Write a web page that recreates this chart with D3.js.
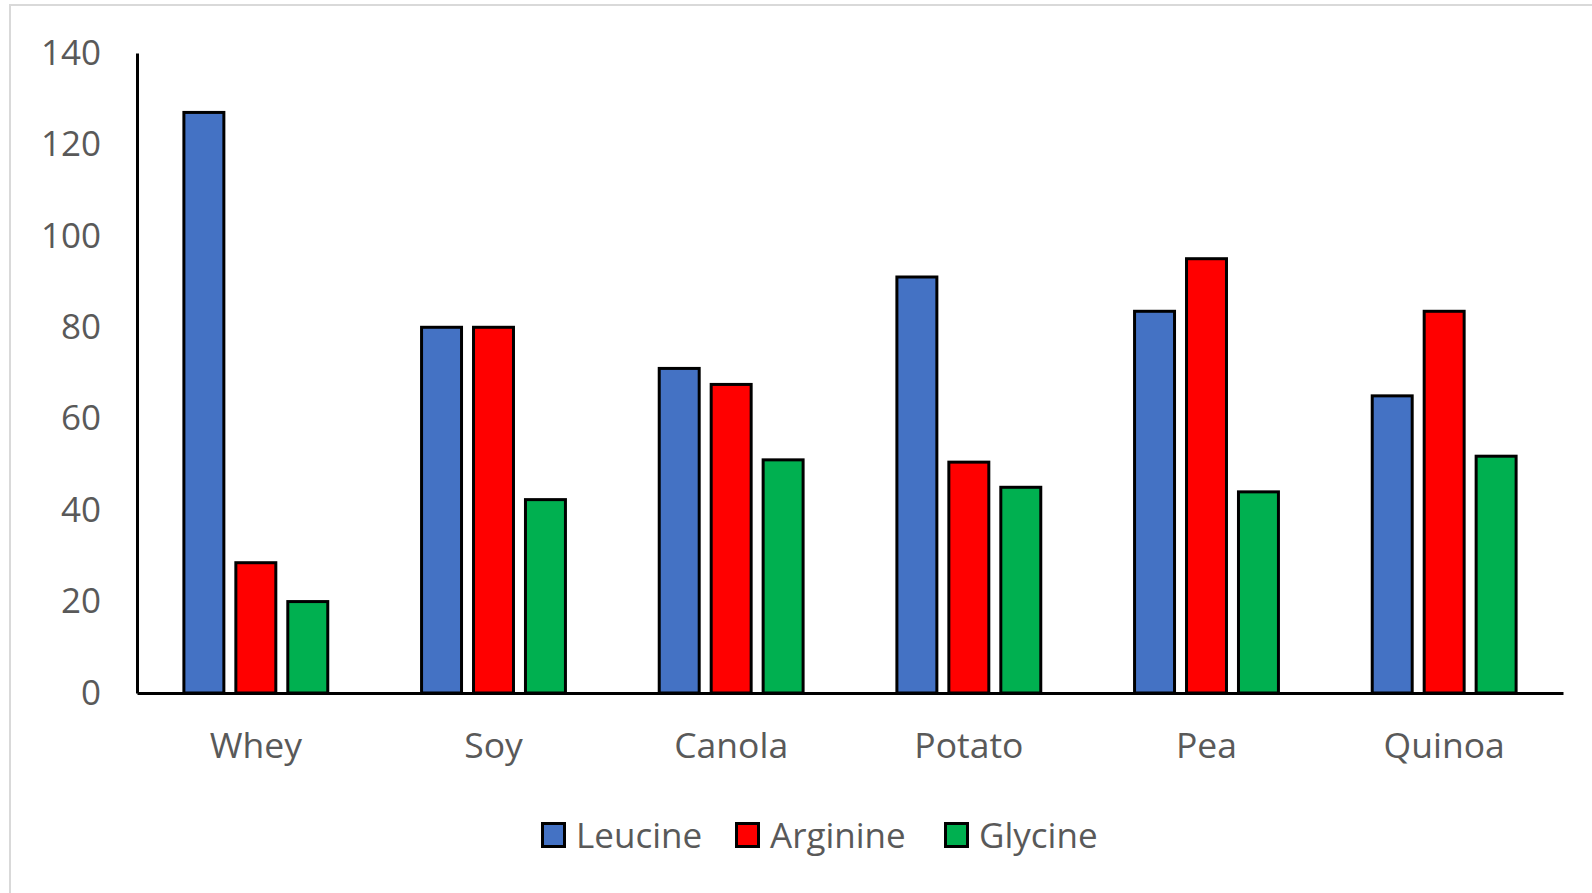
<!DOCTYPE html>
<html>
<head>
  <meta charset="utf-8">
  <title>Amino acids by protein source</title>
  <script src="https://d3js.org/d3.v7.min.js"></script>
  <style>
    body { margin: 0; background: #fff; }
    text { font-family: "Open Sans", "Noto Sans", sans-serif; fill: #595959; }
  </style>
</head>
<body>
  <svg width="1592" height="893"></svg>
  <script>
// data
const categories = ['Whey', 'Soy', 'Canola', 'Potato', 'Pea', 'Quinoa'];
const seriesNames = ['Leucine', 'Arginine', 'Glycine'];
const leucine = [127, 80, 71, 91, 83.5, 65];
const arginine = [28.5, 80, 67.5, 50.5, 95, 83.5];
const glycine = [20, 42.3, 51, 45, 44, 51.8];
const yTicks = [0, 20, 40, 60, 80, 100, 120, 140];
const colors = ['#4472C4', '#FF0000', '#00B050'];

const values = [leucine, arginine, glycine];

const svg = d3.select('svg');

// light frame round the chart area
svg.append('rect')
  .attr('x', 10).attr('y', 5)
  .attr('width', 1600).attr('height', 900)
  .attr('fill', 'none')
  .attr('stroke', '#d9d9d9')
  .attr('stroke-width', 2);

const plotLeft = 137, plotRight = 1563, plotTop = 53, plotBottom = 693;

const y = d3.scaleLinear().domain([0, 140]).range([plotBottom, plotTop]);

const x0 = d3.scaleBand()
  .domain(categories)
  .range([plotLeft, plotRight])
  .paddingInner(0.382)
  .paddingOuter(0.191);

const x1 = d3.scaleBand()
  .domain(seriesNames)
  .range([0, x0.bandwidth()])
  .paddingInner(0.173)
  .paddingOuter(0);

// bars
const groups = svg.append('g').selectAll('g')
  .data(categories)
  .join('g')
  .attr('transform', d => `translate(${x0(d)},0)`);

groups.selectAll('rect')
  .data((c, i) => seriesNames.map((s, j) => ({ s, v: values[j][i], c: colors[j] })))
  .join('rect')
  .attr('x', d => x1(d.s) + 1.5)
  .attr('width', x1.bandwidth() - 3)
  .attr('y', d => y(d.v))
  .attr('height', d => y(0) - y(d.v))
  .attr('fill', d => d.c)
  .attr('stroke', '#000')
  .attr('stroke-width', 3);

// y axis
const yAxis = svg.append('g')
  .attr('transform', `translate(${plotLeft},0)`)
  .call(d3.axisLeft(y).tickValues(yTicks).tickSize(0).tickSizeOuter(0).tickPadding(36));
yAxis.select('.domain').attr('stroke', '#000').attr('stroke-width', 3);
yAxis.selectAll('text').style('font-size', '35px').attr('fill', '#595959');

// x axis
const xAxis = svg.append('g')
  .attr('transform', `translate(0,${plotBottom})`)
  .call(d3.axisBottom(x0).tickSize(0).tickSizeOuter(0).tickPadding(40));
xAxis.select('.domain').attr('stroke', '#000').attr('stroke-width', 3);
xAxis.selectAll('text').style('font-size', '35.5px').attr('fill', '#595959');

// legend
const legendX = [541, 735, 944];
const legend = svg.append('g').selectAll('g')
  .data(seriesNames)
  .join('g')
  .attr('transform', (d, i) => `translate(${legendX[i]},822)`);

legend.append('rect')
  .attr('x', 1.5).attr('y', 1.5)
  .attr('width', 22).attr('height', 23)
  .attr('fill', (d, i) => colors[i])
  .attr('stroke', '#000')
  .attr('stroke-width', 3);

legend.append('text')
  .attr('x', 35)
  .attr('y', 26)
  .style('font-size', '35px')
  .text(d => d);
  </script>
</body>
</html>
